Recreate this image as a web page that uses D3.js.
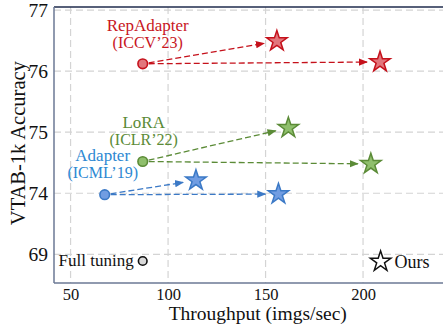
<!DOCTYPE html>
<html>
<head>
<meta charset="utf-8">
<script src="https://cdn.jsdelivr.net/npm/d3@7"></script>
<style>
  body { margin: 0; background: #fff; }
  svg text { font-family: "Liberation Serif", "DejaVu Serif", serif; }
</style>
</head>
<body>
<div id="chart"></div>
<script>
// data
const methods = ["RepAdapter", "LoRA", "Adapter"];
const venues = ["(ICCV\u201923)", "(ICLR\u201922)", "(ICML\u201919)"];
const baseThroughput = [87, 87, 67.5];
const baseAccuracy = [76.12, 74.52, 73.88];
const oursThroughputA = [155.8, 161.7, 114.3];
const oursAccuracyA = [76.49, 75.07, 74.21];
const oursThroughputB = [208.7, 204, 156.6];
const oursAccuracyB = [76.15, 74.48, 73.93];
const fullTuning = { throughput: 87, accuracy: 68.89 };
const xTicks = [50, 100, 150, 200];
const yTicks = [69, 74, 75, 76, 77];

const colors = [
  { stroke: "#c5111b", fill: "#e2767c", text: "#c8161e" },
  { stroke: "#5b8b37", fill: "#8fbf6c", text: "#5b8b37" },
  { stroke: "#3b79c6", fill: "#719de2", text: "#2d88d2" }
];

const FONT = "Liberation Serif";
const W = 443, H = 326;
const margin = { top: 7, right: 0, bottom: 43, left: 54 };
const width = W - margin.left - margin.right,
      height = H - margin.top - margin.bottom;

const svg = d3.select("#chart").append("svg")
  .attr("width", W).attr("height", H)
  .attr("font-family", FONT);

const g = svg.append("g")
  .attr("transform", `translate(${margin.left},${margin.top})`);

const x = d3.scaleLinear().domain([41.5, 241]).range([0, width]);

// broken y axis: 69 sits one band below 74
const band = height / 4.52;
const y = d3.scaleLinear()
  .domain([68.53, 69, 74, 75, 76, 77.05])
  .range([height, height - 0.47 * band, height - 1.47 * band, height - 2.47 * band, height - 3.47 * band, 0]);

// grid
g.selectAll(".vgrid").data(xTicks).enter().append("line")
  .attr("x1", d => x(d)).attr("x2", d => x(d))
  .attr("y1", 0).attr("y2", height)
  .attr("stroke", "#d4d4d4").attr("stroke-width", 1.2)
  .attr("stroke-dasharray", "7,4");
g.selectAll(".hgrid").data(yTicks).enter().append("line")
  .attr("x1", 0).attr("x2", width)
  .attr("y1", d => y(d)).attr("y2", d => y(d))
  .attr("stroke", "#d4d4d4").attr("stroke-width", 1.2)
  .attr("stroke-dasharray", "7,4");

// spines
g.append("line").attr("x1", 0).attr("x2", width).attr("y1", 0).attr("y2", 0)
  .attr("stroke", "#1f2b4d").attr("stroke-width", 1.5);
g.append("line").attr("x1", 0).attr("x2", 0).attr("y1", 0).attr("y2", height)
  .attr("stroke", "#6b7894").attr("stroke-width", 1.5);
g.append("line").attr("x1", 0).attr("x2", width).attr("y1", height).attr("y2", height)
  .attr("stroke", "#6b7894").attr("stroke-width", 1.5);

// axes (labels only)
const xAxis = g.append("g")
  .attr("transform", `translate(0,${height})`)
  .call(d3.axisBottom(x).tickValues(xTicks).tickSize(0).tickPadding(5));
xAxis.attr("font-family", FONT);
xAxis.select(".domain").remove();
xAxis.selectAll("text").attr("font-size", 16.5).attr("fill", "#111");

const yAxis = g.append("g")
  .call(d3.axisLeft(y).tickValues(yTicks).tickSize(0).tickPadding(6));
yAxis.attr("font-family", FONT);
yAxis.select(".domain").remove();
yAxis.selectAll("text").attr("font-size", 19.5).attr("fill", "#111");

// axis titles
svg.append("text")
  .attr("x", margin.left + x(146)).attr("y", 320)
  .attr("text-anchor", "middle").attr("font-size", 19.5).attr("fill", "#111")
  .text("Throughput (imgs/sec)");
svg.append("text")
  .attr("transform", `translate(25,${margin.top + y(74.82)}) rotate(-90)`)
  .attr("text-anchor", "middle").attr("font-size", 20.5).attr("fill", "#111")
  .text("VTAB-1k Accuracy");

// arrowheads
const defs = svg.append("defs");
colors.forEach((c, i) => {
  defs.append("marker")
    .attr("id", "arrow" + i)
    .attr("viewBox", "0 0 10 10")
    .attr("refX", 9).attr("refY", 5)
    .attr("markerWidth", 7).attr("markerHeight", 7)
    .attr("orient", "auto")
    .append("path").attr("d", "M0,1 L10,5 L0,9 Z").attr("fill", c.stroke);
});

const star = d3.symbol().type(d3.symbolStar).size(130);

function arrow(i, x0, y0, x1, y1) {
  const px0 = x(x0), py0 = y(y0), px1 = x(x1), py1 = y(y1);
  const dx = px1 - px0, dy = py1 - py0, len = Math.hypot(dx, dy);
  const s = 6 / len, e = (len - 13) / len;
  g.append("line")
    .attr("x1", px0 + dx * s).attr("y1", py0 + dy * s)
    .attr("x2", px0 + dx * e).attr("y2", py0 + dy * e)
    .attr("stroke", colors[i].stroke).attr("stroke-width", 1.3)
    .attr("stroke-dasharray", "6,3")
    .attr("marker-end", `url(#arrow${i})`);
}

methods.forEach((m, i) => {
  arrow(i, baseThroughput[i], baseAccuracy[i], oursThroughputA[i], oursAccuracyA[i]);
  arrow(i, baseThroughput[i], baseAccuracy[i], oursThroughputB[i], oursAccuracyB[i]);

  [[oursThroughputA[i], oursAccuracyA[i]], [oursThroughputB[i], oursAccuracyB[i]]].forEach(p => {
    g.append("path")
      .attr("d", star)
      .attr("transform", `translate(${x(p[0])},${y(p[1])})`)
      .attr("fill", colors[i].fill).attr("stroke", colors[i].stroke).attr("stroke-width", 1.5);
  });

  g.append("circle")
    .attr("cx", x(baseThroughput[i])).attr("cy", y(baseAccuracy[i])).attr("r", 4.8)
    .attr("fill", colors[i].fill).attr("stroke", colors[i].stroke).attr("stroke-width", 1.6);
});

// method labels
const labelOffsets = [{ dx: 5, dy: -33 }, { dx: 1, dy: -33 }, { dx: -2, dy: -34 }];
methods.forEach((m, i) => {
  const lx = x(baseThroughput[i]) + labelOffsets[i].dx;
  const ly = y(baseAccuracy[i]) + labelOffsets[i].dy;
  g.append("text").attr("x", lx).attr("y", ly)
    .attr("text-anchor", "middle").attr("font-size", 17).attr("fill", colors[i].text)
    .text(m);
  g.append("text").attr("x", lx).attr("y", ly + 17)
    .attr("text-anchor", "middle").attr("font-size", 16).attr("fill", colors[i].text)
    .text(venues[i]);
});

// full tuning
g.append("circle")
  .attr("cx", x(fullTuning.throughput)).attr("cy", y(fullTuning.accuracy)).attr("r", 4.3)
  .attr("fill", "#d9d9d9").attr("stroke", "#111").attr("stroke-width", 1.6);
g.append("text")
  .attr("x", x(fullTuning.throughput) - 9).attr("y", y(fullTuning.accuracy) + 5)
  .attr("text-anchor", "end").attr("font-size", 17).attr("fill", "#111")
  .text("Full tuning");

// ours legend
g.append("path").attr("d", star)
  .attr("transform", `translate(${x(209)},${y(68.88)})`)
  .attr("fill", "#fff").attr("stroke", "#111").attr("stroke-width", 1.5);
g.append("text")
  .attr("x", x(209) + 14).attr("y", y(68.88) + 6)
  .attr("font-size", 18).attr("fill", "#111").text("Ours");
</script>
</body>
</html>
